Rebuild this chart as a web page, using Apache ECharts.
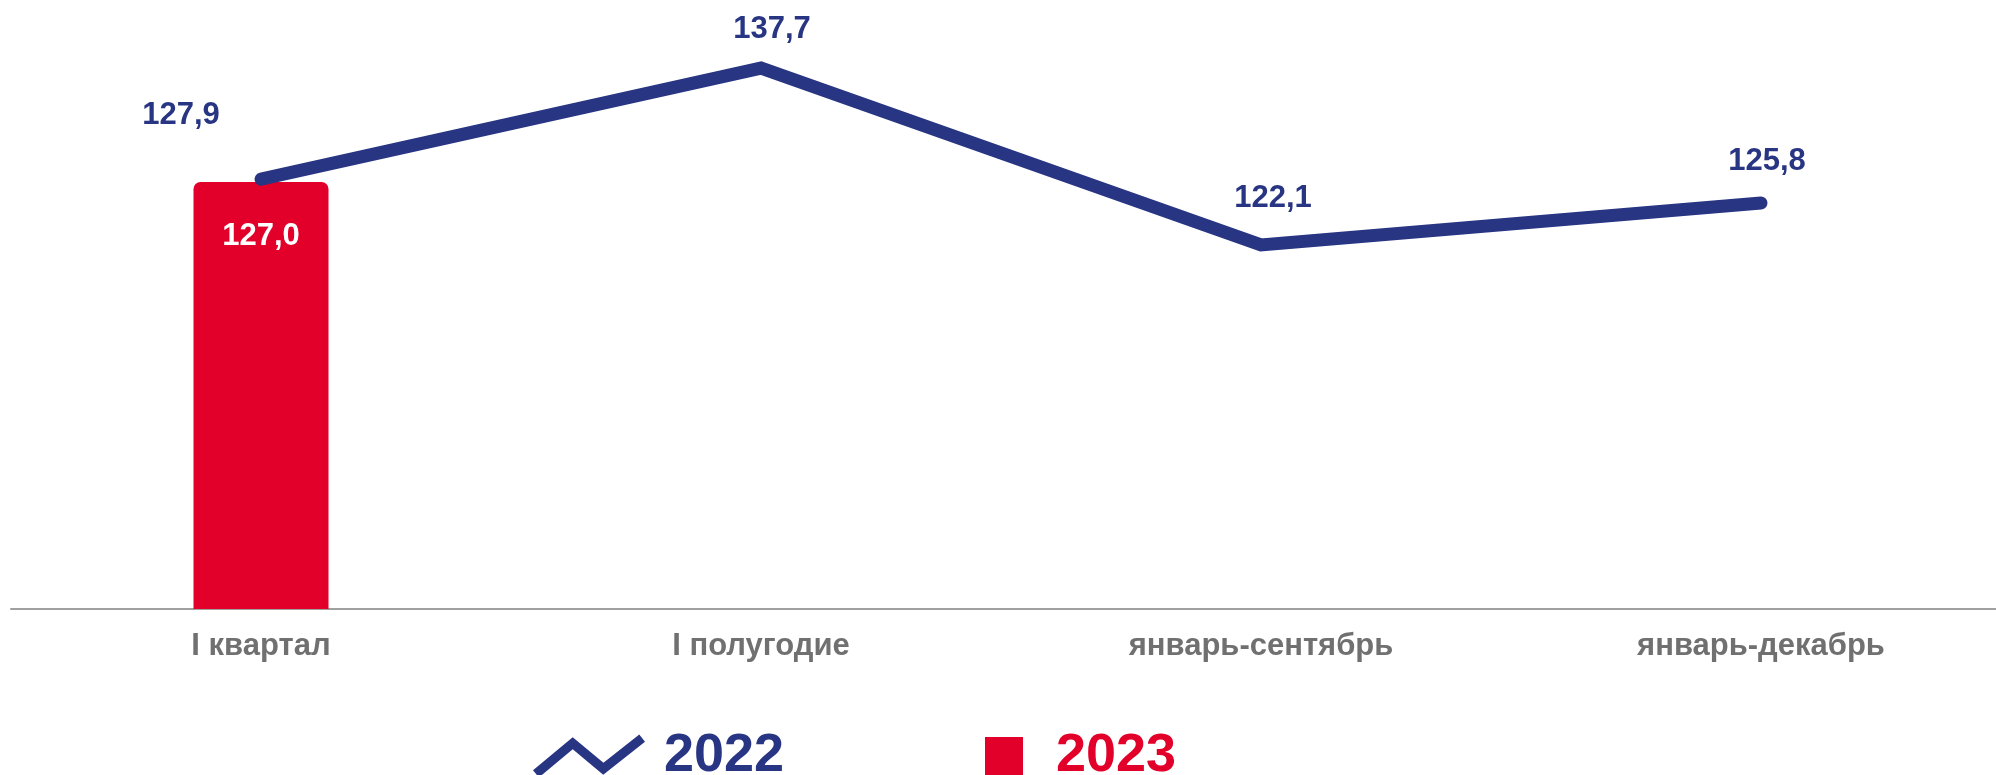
<!DOCTYPE html>
<html>
<head>
<meta charset="utf-8">
<script src="https://cdn.jsdelivr.net/npm/echarts@6/dist/echarts.min.js"></script>
<style>
html,body{margin:0;padding:0;background:#fff;}
#chart{width:1996px;height:775px;}
</style>
</head>
<body>
<div id="chart"></div>
<script>
const categories = ['I квартал', 'I полугодие', 'январь-сентябрь', 'январь-декабрь'];
const values2022 = [127.9, 137.7, 122.1, 125.8];
const values2023 = [127.0, null, null, null];
const seriesNames = ['2022', '2023'];

const NAVY = '#283583';
const RED = '#e2002b';
const GREY = '#707070';
const FONT = '"Liberation Sans", Arial, sans-serif';

const labelOffsets2022 = [[-80, -64], [11, -39], [12, -47], [6, -42]];

const fmt = v => Number(v).toFixed(1).replace('.', ',');

// legend icon: thick zigzag polyline built as a filled polygon
function zigzagPath(pts, t) {
  const h = t / 2;
  const norms = [];
  for (let i = 0; i < pts.length - 1; i++) {
    const dx = pts[i+1][0] - pts[i][0], dy = pts[i+1][1] - pts[i][1];
    const L = Math.hypot(dx, dy);
    norms.push([-dy / L, dx / L]);
  }
  const left = [], right = [];
  for (let i = 0; i < pts.length; i++) {
    let n;
    if (i === 0) n = norms[0];
    else if (i === pts.length - 1) n = norms[norms.length - 1];
    else {
      const a = norms[i-1], b = norms[i];
      const m = [a[0] + b[0], a[1] + b[1]];
      const ml = Math.hypot(m[0], m[1]);
      const cos = (m[0] * a[0] + m[1] * a[1]) / ml;
      n = [m[0] / ml / cos, m[1] / ml / cos];
    }
    left.push([pts[i][0] + n[0] * h, pts[i][1] + n[1] * h]);
    right.push([pts[i][0] - n[0] * h, pts[i][1] - n[1] * h]);
  }
  const poly = left.concat(right.reverse());
  return 'path://' + poly.map((p, i) => (i ? 'L' : 'M') + p[0].toFixed(1) + ',' + p[1].toFixed(1)).join(' ') + ' Z';
}
const zigzag = zigzagPath([[4, 40], [40, 10], [70, 35], [108, 5]], 9);

const chart = echarts.init(document.getElementById('chart'), null, {renderer: 'canvas'});

chart.setOption({
  animation: false,
  backgroundColor: '#ffffff',
  grid: {left: 11, width: 2000, top: 42, bottom: 166, containLabel: false, outerBoundsMode: 'none'},
  legend: [
    {
      left: 533, top: 729, padding: 0,
      itemWidth: 112, itemHeight: 45,
      selectedMode: false,
      data: [{name: seriesNames[0], icon: zigzag,
               textStyle: {color: NAVY, fontSize: 54, fontWeight: 'bold', fontFamily: FONT, padding: [0, 0, 0, 14]}}]
    },
    {
      left: 985, top: 729, padding: 0,
      itemWidth: 38, itemHeight: 38,
      selectedMode: false,
      data: [{name: seriesNames[1], icon: 'rect',
               textStyle: {color: RED, fontSize: 54, fontWeight: 'bold', fontFamily: FONT, padding: [0, 0, 0, 28]}}]
    }
  ],
  xAxis: {
    type: 'category',
    data: categories,
    boundaryGap: true,
    axisLine: {show: true, lineStyle: {color: '#a0a0a0', width: 2}},
    axisTick: {show: false},
    axisLabel: {color: GREY, fontSize: 31, fontWeight: 'bold', fontFamily: FONT, margin: 22},
    splitLine: {show: false}
  },
  yAxis: [
    {type: 'value', min: 0, max: 168.6, show: false, splitLine: {show: false}},
    {type: 'value', min: 90, max: 140, show: false, splitLine: {show: false}}
  ],
  series: [
    {
      name: seriesNames[1],
      type: 'bar',
      yAxisIndex: 0,
      data: values2023,
      barWidth: 135,
      itemStyle: {color: RED, borderRadius: [7, 7, 0, 0]},
      label: {
        show: true, position: 'insideTop', distance: 39,
        color: '#ffffff', fontSize: 31, fontWeight: 'bold', fontFamily: FONT,
        formatter: p => fmt(p.value)
      }
    },
    {
      name: seriesNames[0],
      type: 'line',
      yAxisIndex: 1,
      data: values2022.map((v, i) => ({
        value: v,
        label: {offset: labelOffsets2022[i]}
      })),
      symbol: 'circle',
      symbolSize: 1,
      showSymbol: true,
      itemStyle: {color: NAVY},
      lineStyle: {color: NAVY, width: 13, cap: 'round', join: 'miter'},
      label: {
        show: true, position: 'inside',
        color: NAVY, fontSize: 31, fontWeight: 'bold', fontFamily: FONT,
        formatter: p => fmt(p.value)
      },
      z: 3
    }
  ]
});
</script>
</body>
</html>
